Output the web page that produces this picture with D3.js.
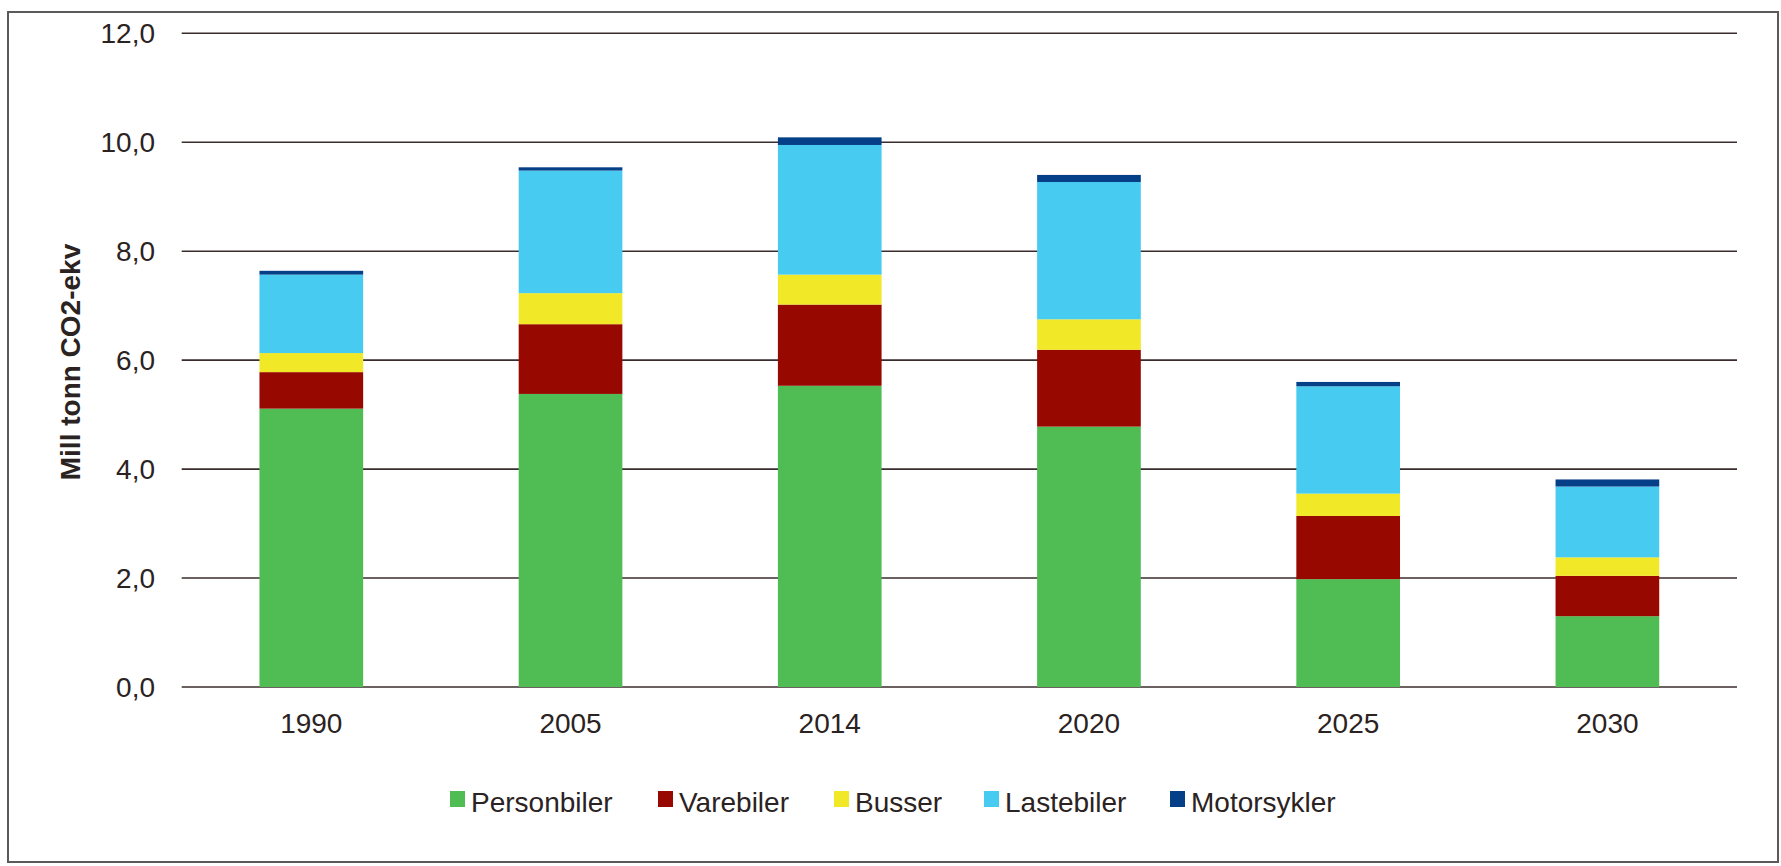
<!DOCTYPE html>
<html>
<head>
<meta charset="utf-8">
<script src="https://cdn.jsdelivr.net/npm/d3@7"></script>
<style>
  html, body { margin: 0; padding: 0; background: #ffffff; }
  svg { display: block; }
  text { font-family: "Liberation Sans", Arial, sans-serif; fill: #2b2222; }
</style>
</head>
<body>
<svg id="chart" width="1781" height="866"></svg>
<script>
// ---- Data ----
const years = ["1990", "2005", "2014", "2020", "2025", "2030"];
const seriesNames = ["Personbiler", "Varebiler", "Busser", "Lastebiler", "Motorsykler"];
const personbiler = [5.11, 5.38, 5.53, 4.78, 1.98, 1.30];
const varebiler   = [0.67, 1.28, 1.49, 1.41, 1.16, 0.74];
const busser      = [0.35, 0.57, 0.55, 0.56, 0.41, 0.34];
const lastebiler  = [1.44, 2.25, 2.38, 2.52, 1.97, 1.30];
const motorsykler = [0.07, 0.06, 0.14, 0.13, 0.08, 0.13];
const yTicks = [0, 2, 4, 6, 8, 10, 12];
const yTitle = "Mill tonn CO2-ekv";

const colors = ["#4fbd53", "#970900", "#f1e827", "#48cbf0", "#053f88"];

// ---- Build table ----
const seriesValues = [personbiler, varebiler, busser, lastebiler, motorsykler];
const table = years.map((y, i) => {
  const row = { year: y };
  seriesNames.forEach((s, j) => row[s] = seriesValues[j][i]);
  return row;
});

const svg = d3.select("#chart");

// Outer frame
svg.append("rect")
  .attr("x", 8).attr("y", 12)
  .attr("width", 1770).attr("height", 850)
  .attr("fill", "none")
  .attr("stroke", "#5a5a5a")
  .attr("stroke-width", 2);

const x = d3.scaleBand()
  .domain(years)
  .range([181.7, 1737])
  .paddingInner(0.6)
  .paddingOuter(0.3);

const y = d3.scaleLinear()
  .domain([0, 12])
  .range([687, 33.3]);

// Gridlines
svg.append("g")
  .selectAll("line")
  .data(yTicks)
  .join("line")
  .attr("x1", 181.7).attr("x2", 1737)
  .attr("y1", d => y(d)).attr("y2", d => y(d))
  .attr("stroke", "#3b2c2c")
  .attr("stroke-width", 1.6);

// Y tick labels
const fmt = d => d3.format(".1f")(d).replace(".", ",");
svg.append("g")
  .selectAll("text")
  .data(yTicks)
  .join("text")
  .attr("x", 155)
  .attr("y", d => y(d))
  .attr("dy", "0.35em")
  .attr("text-anchor", "end")
  .attr("font-size", 28)
  .text(fmt);

// Stacked bars
const stack = d3.stack().keys(seriesNames);
const stacked = stack(table);

svg.append("g")
  .selectAll("g")
  .data(stacked)
  .join("g")
  .attr("fill", (d, i) => colors[i])
  .selectAll("rect")
  .data(d => d)
  .join("rect")
  .attr("x", d => x(d.data.year))
  .attr("width", x.bandwidth())
  .attr("y", d => y(d[1]))
  .attr("height", d => y(d[0]) - y(d[1]));

// X labels
svg.append("g")
  .selectAll("text")
  .data(years)
  .join("text")
  .attr("x", d => x(d) + x.bandwidth() / 2)
  .attr("y", 733)
  .attr("text-anchor", "middle")
  .attr("font-size", 28)
  .text(d => d);

// Y axis title
svg.append("text")
  .attr("transform", "translate(80,362) rotate(-90)")
  .attr("text-anchor", "middle")
  .attr("font-size", 28)
  .attr("font-weight", "bold")
  .text(yTitle);

// Legend
const legendX = [450, 658, 834, 984, 1170];
const legend = svg.append("g");
seriesNames.forEach((s, i) => {
  legend.append("rect")
    .attr("x", legendX[i]).attr("y", 791)
    .attr("width", 15).attr("height", 16)
    .attr("fill", colors[i]);
  legend.append("text")
    .attr("x", legendX[i] + 21)
    .attr("y", 812)
    .attr("font-size", 28)
    .text(s);
});
</script>
</body>
</html>
